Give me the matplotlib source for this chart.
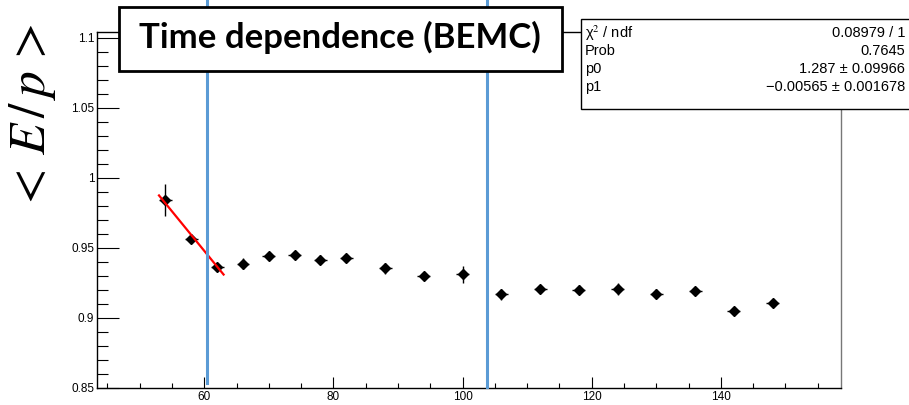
import matplotlib
matplotlib.use("Agg")
import matplotlib.pyplot as plt
import matplotlib.transforms as mtransforms
from matplotlib.ticker import MultipleLocator
import numpy as np

# ---- data ----
run_x = [54, 58, 62, 66, 70, 74, 78, 82, 88, 94, 100, 106, 112, 118, 124, 130, 136, 142, 148]
ep_mean = [0.9841, 0.9567, 0.9364, 0.9389, 0.9441, 0.9450, 0.9417, 0.9429, 0.9355, 0.9298,
           0.9312, 0.9169, 0.9207, 0.9203, 0.9207, 0.9174, 0.9193, 0.9050, 0.9107]
ep_err = [0.0115, 0.003, 0.003, 0.004, 0.003, 0.003, 0.003, 0.003, 0.004, 0.003,
          0.006, 0.004, 0.003, 0.003, 0.004, 0.003, 0.003, 0.003, 0.003]
x_err = [1.0] * len(run_x)
fit_p0 = 1.287
fit_p1 = -0.00565
fit_range = [53, 63]
cut_lines = [60.5, 103.8]
stats_rows = [("χ$^{2}$ / ndf", "0.08979 / 1"),
              ("Prob", "0.7645"),
              ("p0", "1.287 ± 0.09966"),
              ("p1", "−0.00565 ± 0.001678")]
title_text = "Time dependence (BEMC)"
ylabel_text = r"$<\,E\,/\,p\,>$"

W, H = 909, 405
fig = plt.figure(figsize=(W / 100, H / 100), dpi=100)
plt.rcParams['mathtext.fontset'] = 'stix'

# axes frame in pixel coordinates
L, R, B, T = 97, 841, 388, 32
ax = fig.add_axes([L / W, 1 - B / H, (R - L) / W, (B - T) / H])
ax.set_xlim(43.4, 158.6)
ax.set_ylim(0.85, 1.1 + (38 - T) / 1400)

for s in ax.spines.values():
    s.set_linewidth(1.0)
    s.set_color('black')
ax.spines['right'].set_color('#777777')

ax.errorbar(run_x, ep_mean, yerr=ep_err, xerr=x_err, fmt='D', color='black',
            ms=5, elinewidth=1.0, capsize=0, zorder=3)

fx = np.array(fit_range)
ax.plot(fx, fit_p0 + fit_p1 * fx, color='red', lw=1.6, zorder=4)

ax.xaxis.set_major_locator(MultipleLocator(20))
ax.xaxis.set_minor_locator(MultipleLocator(5))
ax.yaxis.set_major_locator(MultipleLocator(0.05))
ax.yaxis.set_minor_locator(MultipleLocator(0.01))
ax.tick_params(axis='x', which='major', direction='in', length=7.7, width=0.8,
               labelsize=8.5, pad=2, top=False)
ax.tick_params(axis='x', which='minor', direction='in', length=3.8, width=0.8, top=False)
ax.tick_params(axis='y', which='major', direction='in', length=15.8, width=0.8,
               labelsize=8.5, pad=2, right=False)
ax.tick_params(axis='y', which='minor', direction='in', length=7.9, width=0.8, right=False)
for lab in ax.get_xticklabels() + ax.get_yticklabels():
    lab.set_family('Liberation Sans')
ax.yaxis.set_major_formatter(matplotlib.ticker.FuncFormatter(lambda v, p: ('%g' % round(v, 3))))

# blue cut lines (overlay)
trans = mtransforms.blended_transform_factory(ax.transData, fig.transFigure)
ax.plot([cut_lines[0]] * 2, [1 - 383 / H, 1.0], color='#5B9BD5', lw=2.2,
        transform=trans, clip_on=False, zorder=5)
ax.plot([cut_lines[1]] * 2, [1 - 387 / H, 1.0], color='#5B9BD5', lw=2.2,
        transform=trans, clip_on=False, zorder=5)

# title box
fig.patches.append(matplotlib.patches.Rectangle((119 / W, 1 - 71 / H), (562 - 119) / W, (71 - 7) / H,
                   transform=fig.transFigure, facecolor='white', edgecolor='black', lw=2.0, zorder=10))
fig.text(139 / W, 1 - 48 / H, title_text, ha='left', va='baseline', fontsize=25,
         fontweight='bold', family='Lato', zorder=11)

# stats box
sx0, sx1, sy0, sy1 = 581, 915, 19, 109
fig.patches.append(matplotlib.patches.Rectangle((sx0 / W, 1 - sy1 / H), (sx1 - sx0) / W, (sy1 - sy0) / H,
                   transform=fig.transFigure, facecolor='white', edgecolor='black', lw=1.0, zorder=10))
for i, (k, v) in enumerate(stats_rows):
    yy = 1 - (33 + i * 18) / H
    fig.text(585 / W, yy, k, ha='left', va='center', fontsize=10.5, family='Liberation Sans', zorder=11)
    fig.text(905 / W, yy, v, ha='right', va='center', fontsize=10.5, family='Liberation Sans', zorder=11)

# y label
fig.text(33 / W, 1 - 117 / H, ylabel_text, rotation=90, ha='center', va='center', fontsize=37)

fig.savefig('out.png', dpi=100)
